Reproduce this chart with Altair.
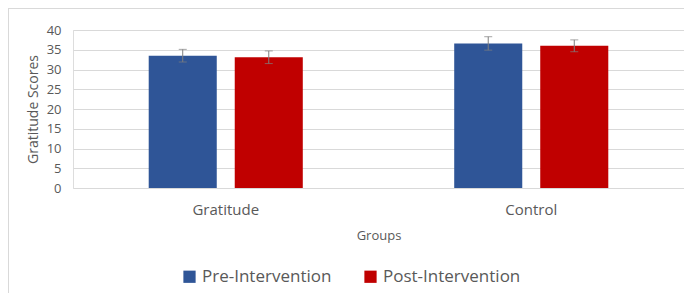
import altair as alt
import pandas as pd

groups = ["Gratitude", "Gratitude", "Control", "Control"]
series = ["Pre-Intervention", "Post-Intervention", "Pre-Intervention", "Post-Intervention"]
values = [33.5, 33.1, 36.6, 36.0]
errors = [1.6, 1.6, 1.7, 1.5]
y_ticks = [0, 5, 10, 15, 20, 25, 30, 35, 40]

df = pd.DataFrame({"group": groups, "series": series, "value": values, "err": errors})

FONT = "Open Sans"
TXT = "#595959"
group_order = ["Gratitude", "Control"]
series_order = ["Pre-Intervention", "Post-Intervention"]

x = alt.X("group:N", sort=group_order, scale=alt.Scale(paddingInner=0, paddingOuter=0),
          axis=alt.Axis(title="Groups", labelAngle=0, domain=False, ticks=False,
                        labelFontSize=15, labelColor=TXT, labelPadding=14,
                        titleFontSize=13, titleColor=TXT, titleFontWeight="normal",
                        titlePadding=12, labelFont=FONT, titleFont=FONT))
xoff = alt.XOffset("series:N", sort=series_order,
                   scale=alt.Scale(paddingInner=0.209, paddingOuter=0.88))
yscale = alt.Scale(domain=[0, 40], nice=False)
yaxis = alt.Axis(title="Gratitude Scores", values=y_ticks,
                 domain=False, ticks=False, grid=True, gridColor="#d9d9d9",
                 labelOverlap=False,
                 labelFontSize=13, labelColor=TXT, labelPadding=12,
                 titleFontSize=14, titleColor=TXT, titleFontWeight="normal",
                 titlePadding=6, labelFont=FONT, titleFont=FONT)

base = alt.Chart(df)

bars = base.mark_bar(strokeWidth=0).encode(
    x=x,
    xOffset=xoff,
    y=alt.Y("value:Q", scale=yscale, axis=yaxis),
    color=alt.Color("series:N", sort=series_order,
                    scale=alt.Scale(domain=series_order, range=["#2F5597", "#C00000"]),
                    legend=alt.Legend(title=None, orient="none", direction="horizontal",
                                      legendX=108, legendY=238, symbolType="square",
                                      symbolSize=150, symbolStrokeWidth=0,
                                      labelFontSize=17, labelColor=TXT, labelFont=FONT,
                                      columnPadding=30, symbolOffset=0)),
)

err_base = base.transform_calculate(lo="datum.value - datum.err", hi="datum.value + datum.err")

rules = err_base.mark_rule(color="#7f7f7f", strokeWidth=1).encode(
    x=x, xOffset=xoff,
    y=alt.Y("lo:Q", scale=yscale, axis=yaxis), y2="hi:Q",
)
caps_hi = err_base.mark_tick(color="#7f7f7f", thickness=1, size=8, orient="horizontal").encode(
    x=x, xOffset=xoff, y=alt.Y("hi:Q", scale=yscale, axis=yaxis))
caps_lo = err_base.mark_tick(color="#7f7f7f", thickness=1, size=8, orient="horizontal").encode(
    x=x, xOffset=xoff, y=alt.Y("lo:Q", scale=yscale, axis=yaxis))

border_top = alt.Chart(df).mark_rule(color="#d9d9d9", strokeWidth=1).encode(
    x=alt.value(-64.5), x2=alt.value(620), y=alt.value(-21.5))
border_left = alt.Chart(df).mark_rule(color="#d9d9d9", strokeWidth=1).encode(
    x=alt.value(-64.5), y=alt.value(-21.5), y2=alt.value(265))

chart = alt.layer(bars, rules, caps_hi, caps_lo, border_top, border_left).properties(
    width=611, height=158,
    padding={"left": 65, "top": 22, "right": 0, "bottom": 105},
    autosize=alt.AutoSizeParams(type="none"),
).configure_view(stroke=None).configure(background="white")

chart.save("out.html", embed_options={"renderer": "svg", "actions": False})
